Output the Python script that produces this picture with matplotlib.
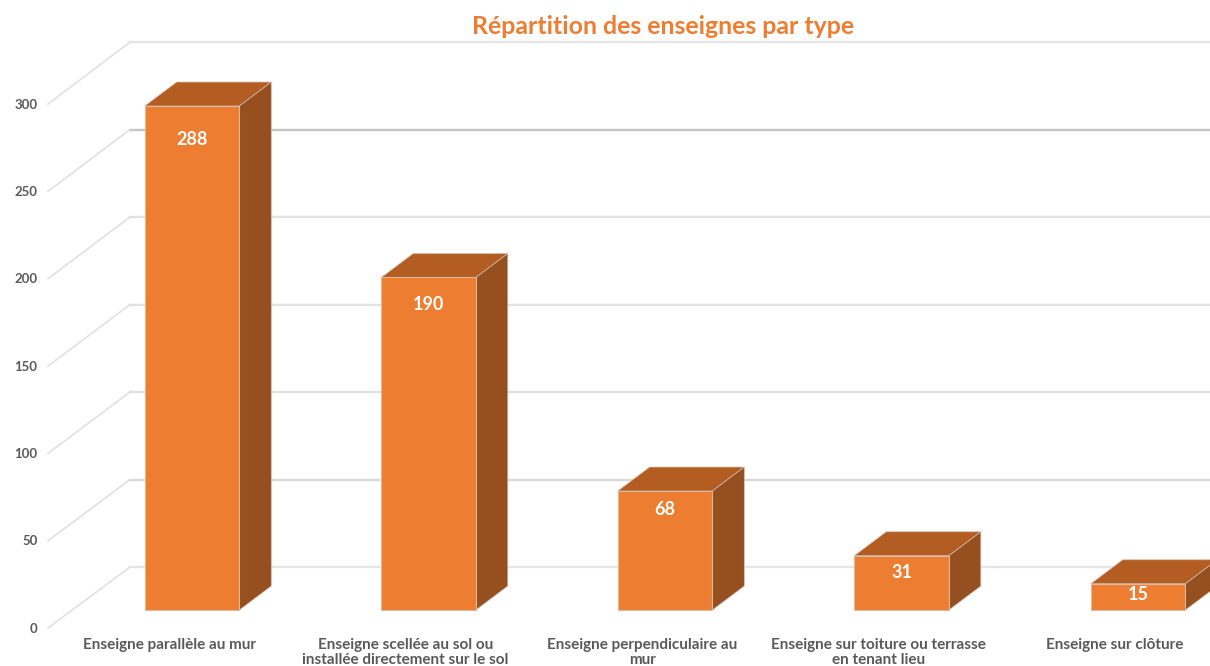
import matplotlib
matplotlib.use("Agg")
import matplotlib.pyplot as plt
from matplotlib.patches import Polygon

plt.rcParams["font.family"] = ["Lato", "DejaVu Sans"]

categories = [
    "Enseigne parallèle au mur",
    "Enseigne scellée au sol ou\ninstallée directement sur le sol",
    "Enseigne perpendiculaire au\nmur",
    "Enseigne sur toiture ou terrasse\nen tenant lieu",
    "Enseigne sur clôture",
]
values = [288, 190, 68, 31, 15]
y_ticks = [0, 50, 100, 150, 200, 250, 300]
grid_colors = ["#e6e6e6", "#d9d9d9", "#e2e2e2", "#e2e2e2", "#e2e2e2", "#c4c4c4", "#e4e4e4"]
label_drop = [19, 15.5, 10.5, 9.5, 6]

ORANGE = "#ed7d31"
TOP = "#b45d22"
SIDE = "#964f1e"
EDGE = "#d9b9a0"
TEXT = "#595959"

# one category = 236.5 px, one unit = 1.75 px
BAR_W = 0.40
DEPTH_X = 0.135
DEPTH_Y = 13.7
FLOOR_FRONT_X, FLOOR_BACK_X = -0.609, -0.262
FLOOR_FRONT_Y, FLOOR_BACK_Y = -10.29, 24.57
FRONT_SCALE = 0.998

fig = plt.figure(figsize=(12.1, 6.66), dpi=100)
ax = fig.add_axes([0, 0, 1, 1])
ax.set_xlim(-0.812, 4.304)
ax.set_ylim(-32, 348.57)
ax.axis("off")

for tick, color in zip(y_ticks, grid_colors):
    y_back = tick + FLOOR_BACK_Y
    y_front = tick * FRONT_SCALE + FLOOR_FRONT_Y
    ax.plot([FLOOR_BACK_X, 4.304], [y_back, y_back], color=color, lw=1.7, zorder=1)
    ax.plot([FLOOR_FRONT_X, FLOOR_BACK_X], [y_front, y_back], color="#e0e0e0", lw=1.2, zorder=1)
    ax.text(FLOOR_FRONT_X - 0.044, y_front - 0.4, str(tick), ha="right", va="center",
            fontsize=9.5, fontweight="bold", color=TEXT)

for i, (name, val, drop) in enumerate(zip(categories, values, label_drop)):
    left, right = i - BAR_W / 2, i + BAR_W / 2
    ax.add_patch(Polygon([(left, 0), (right, 0), (right, val), (left, val)],
                         facecolor=ORANGE, edgecolor=EDGE, lw=0.8, zorder=4))
    ax.add_patch(Polygon([(left, val), (right, val), (right + DEPTH_X, val + DEPTH_Y),
                          (left + DEPTH_X, val + DEPTH_Y)],
                         facecolor=TOP, edgecolor="#d0bfb2", lw=0.5, zorder=3))
    ax.add_patch(Polygon([(right, 0), (right + DEPTH_X, DEPTH_Y),
                          (right + DEPTH_X, val + DEPTH_Y), (right, val)],
                         facecolor=SIDE, edgecolor="#d0bfb2", lw=0.5, zorder=3))
    ax.text(i, val - drop, str(val), ha="center", va="center", color="white",
            fontsize=13, fontweight="bold", zorder=5)
    ax.text(i - 0.097, -15.8, name, ha="center", va="top", color=TEXT, fontsize=11,
            fontweight="bold", linespacing=1.15)

fig.text(663 / 1210, 1 - 27 / 666, "Répartition des enseignes par type", ha="center", va="center",
         color=ORANGE, fontsize=17.9, fontweight="bold")

fig.savefig("out.png", dpi=100)
